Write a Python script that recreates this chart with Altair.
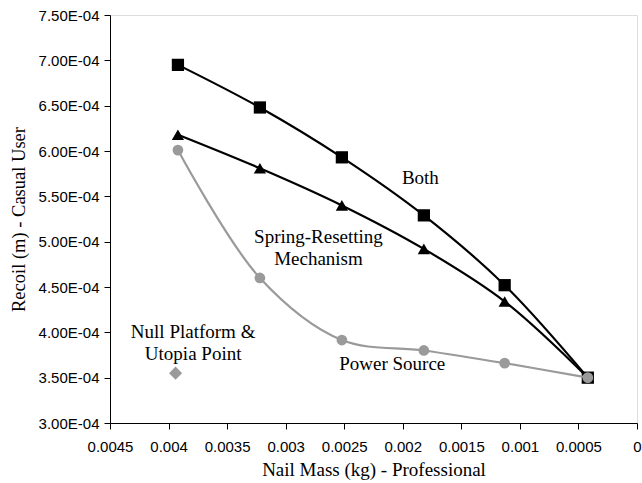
import altair as alt
import pandas as pd

nail_mass = [0.00392, 0.00322, 0.00252, 0.00182, 0.00113, 0.00042]
both = [6.95e-4, 6.48e-4, 5.93e-4, 5.29e-4, 4.52e-4, 3.50e-4]
spring = [6.18e-4, 5.81e-4, 5.40e-4, 4.92e-4, 4.34e-4, 3.50e-4]
power = [6.01e-4, 4.60e-4, 3.915e-4, 3.80e-4, 3.66e-4, 3.50e-4]
utopia_x = [0.00394]
utopia_y = [3.55e-4]

labels_text = [["Both"], ["Spring-Resetting", "Mechanism"], ["Null Platform &", "Utopia Point"], ["Power Source"]]
labels_x = [0.00185, 0.00272, 0.00379, 0.00209]
labels_y = [5.70e-4, 5.05e-4, 4.00e-4, 3.65e-4]

df_both = pd.DataFrame({"x": nail_mass, "y": both})
df_spring = pd.DataFrame({"x": nail_mass, "y": spring})
df_power = pd.DataFrame({"x": nail_mass, "y": power})
df_utopia = pd.DataFrame({"x": utopia_x, "y": utopia_y})
df_labels = pd.DataFrame({"x": labels_x, "y": labels_y, "t": labels_text})

xs = alt.Scale(domain=[0, 0.0045], reverse=True, nice=False)
ys = alt.Scale(domain=[3.0e-4, 7.5e-4], nice=False, zero=False)

xvals = [0.0045, 0.004, 0.0035, 0.003, 0.0025, 0.002, 0.0015, 0.001, 0.0005, 0]
yvals = [3.0e-4, 3.5e-4, 4.0e-4, 4.5e-4, 5.0e-4, 5.5e-4, 6.0e-4, 6.5e-4, 7.0e-4, 7.5e-4]

X = alt.X("x:Q", scale=xs, title="Nail Mass (kg) - Professional",
          axis=alt.Axis(values=xvals, labelExpr="format(datum.value, '~g')", grid=False,
                        domainColor="black", tickColor="black", tickSize=6, labelColor="black",
                        labelFont="Liberation Sans", labelFontSize=15, labelPadding=10,
                        titleFont="Liberation Serif", titleFontSize=19, titleFontWeight="normal",
                        titleColor="black", titlePadding=6, labelFlush=False, labelOverlap=False))
Y = alt.Y("y:Q", scale=ys, title="Recoil (m) - Casual User",
          axis=alt.Axis(values=yvals, labelExpr="format(datum.value*10000, '.2f') + 'E-04'", grid=False,
                        domainColor="black", tickColor="black", tickSize=6, labelColor="black",
                        labelFont="Liberation Sans", labelFontSize=15, labelPadding=5,
                        titleFont="Liberation Serif", titleFontSize=18.5, titleFontWeight="normal",
                        titleColor="black", titlePadding=10, labelFlush=False, labelOverlap=False))

def series(df, color, shape, size):
    line = alt.Chart(df).mark_line(color=color, strokeWidth=2.2, interpolate="catmull-rom").encode(x=X, y=Y)
    pts = alt.Chart(df).mark_point(color=color, fill=color, filled=True, opacity=1, shape=shape, size=size).encode(x=X, y=Y)
    return line + pts

grey = "#9a9a9a"
layers = (series(df_both, "black", "square", 150)
          + series(df_spring, "black", "triangle-up", 150)
          + series(df_power, grey, "circle", 115))
utopia = alt.Chart(df_utopia).mark_point(color=grey, fill=grey, filled=True, opacity=1, shape="diamond", size=170).encode(x=X, y=Y)
labels = alt.Chart(df_labels).mark_text(font="Liberation Serif", fontSize=19, color="black",
                                        align="center", baseline="middle", lineHeight=22).encode(
    x=X, y=Y, text="t")

chart = (layers + utopia + labels).properties(
    width=527, height=408,
    autosize=alt.AutoSizeParams(type="none"),
    padding={"left": 110, "top": 15, "right": 5, "bottom": 60},
).configure_view(stroke="black", strokeWidth=1.5).configure(background="white")

chart.save("out.html", embed_options={"renderer": "svg", "actions": False})
